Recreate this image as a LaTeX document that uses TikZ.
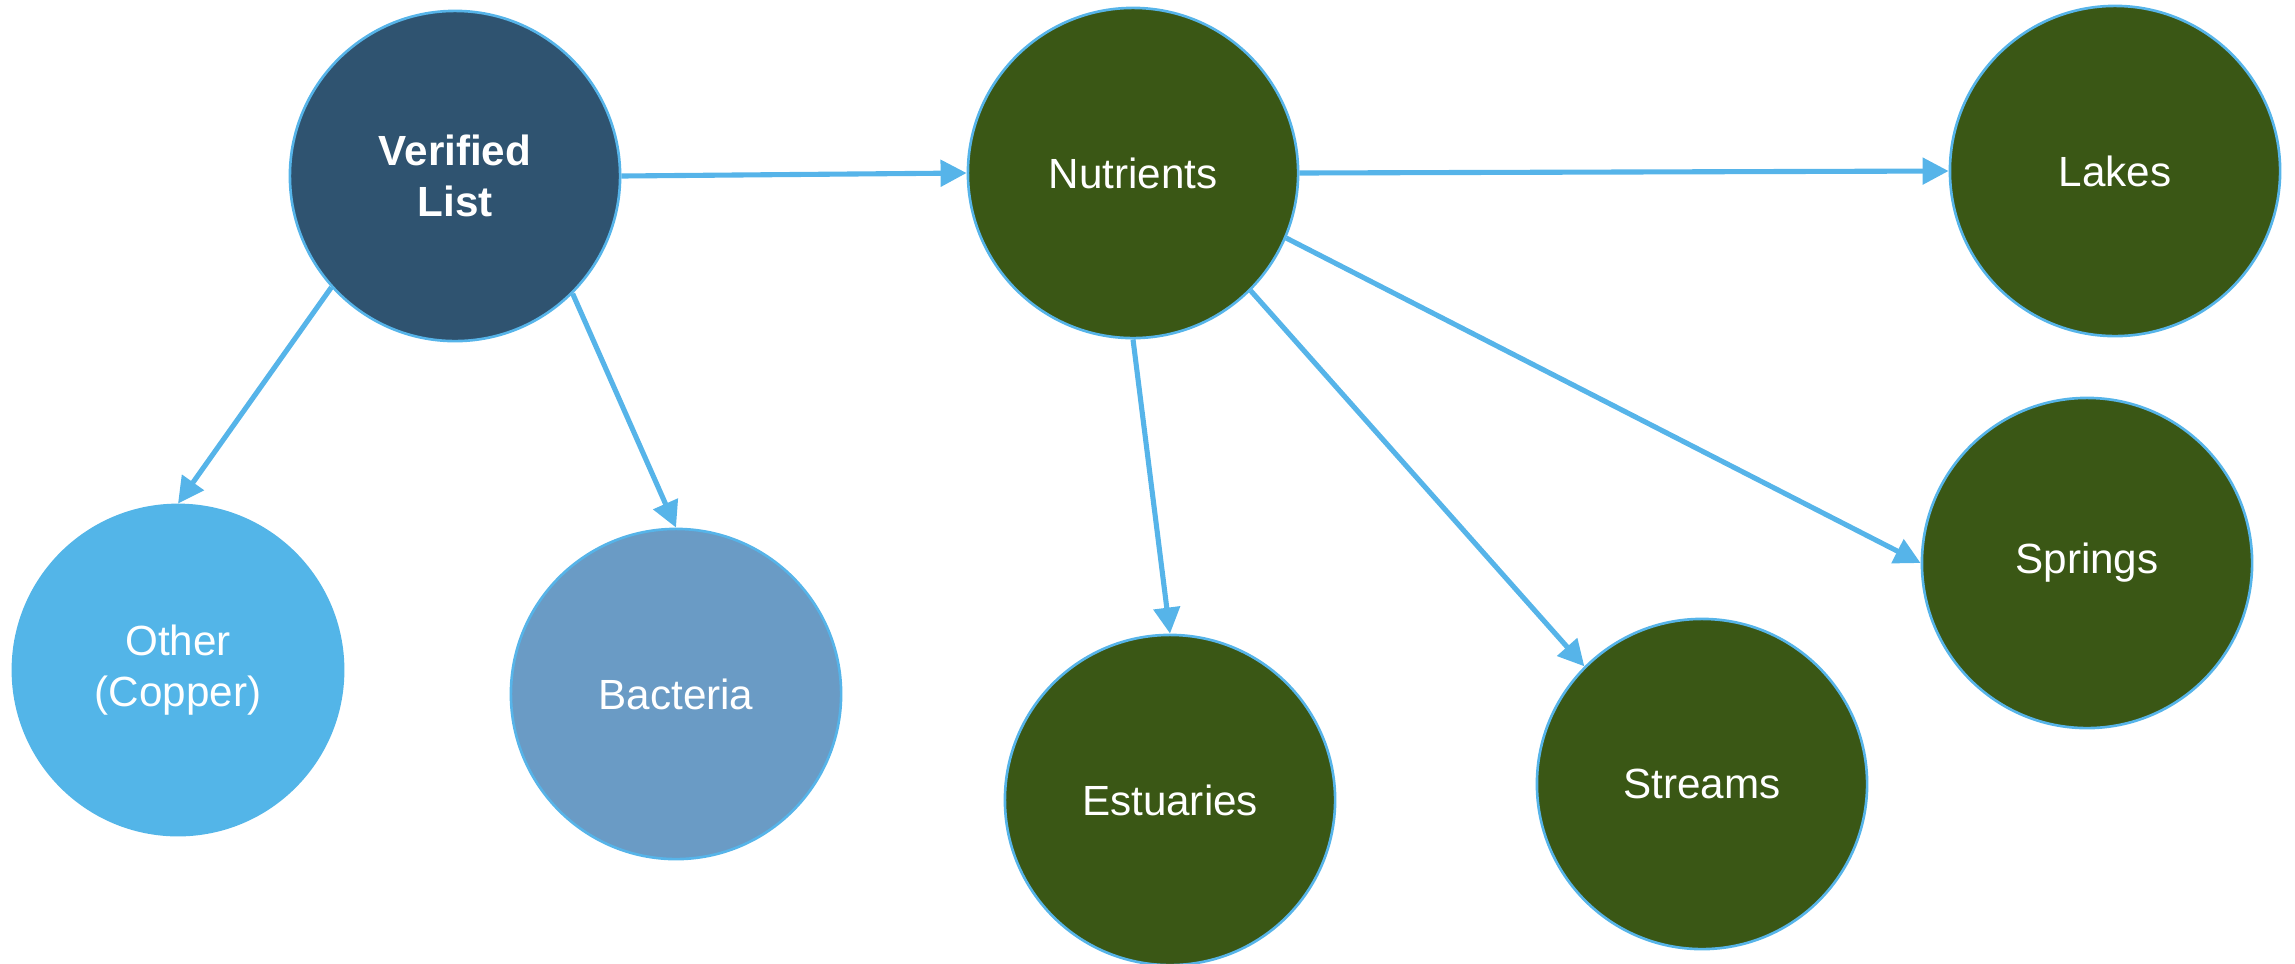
\documentclass[tikz,border=0pt]{standalone}
\usepackage{fontspec}
\setmainfont{Liberation Sans}
\usetikzlibrary{arrows.meta}
\definecolor{edgeblue}{HTML}{56B4E9}
\definecolor{navy}{HTML}{2F5370}
\definecolor{leaf}{HTML}{3A5715}
\definecolor{sky}{HTML}{53B5E8}
\definecolor{steel}{HTML}{6A9BC5}

\begin{document}
\begin{tikzpicture}[x=0.01cm, y=-0.01cm,
  bubble/.style={circle, minimum size=3.3cm, inner sep=0pt, draw=edgeblue,
    line width=0.75pt, text=white, align=center,
    font=\fontsize{12}{14.6}\selectfont},
  link/.style={draw=edgeblue, line width=1.45pt,
    -{Triangle[length=7.4pt, width=7.4pt]}}]

\useasboundingbox (0,0) rectangle (2295,963);

% nodes
\node[bubble, fill=navy, font=\fontsize{12}{14.6}\selectfont\bfseries] (vl) at (455,176) {Verified\\List};
\node[bubble, fill=leaf] (nut) at (1133,173) {Nutrients};
\node[bubble, fill=leaf] (lak) at (2115,171) {Lakes};
\node[bubble, fill=leaf] (spr) at (2087,563) {Springs};
\node[bubble, fill=leaf] (str) at (1702,784) {Streams};
\node[bubble, fill=leaf] (est) at (1170,800) {Estuaries};
\node[bubble, fill=sky, draw=sky] (oth) at (178,670) {Other\\(Copper)};
\node[bubble, fill=steel] (bac) at (676,694) {Bacteria};

% connectors
\draw[link] (vl.east) -- (nut.west);
\draw[link] (vl.222) -- (oth.north);
\draw[link] (vl.-45) -- (bac.north);
\draw[link] (nut.east) -- (lak.west);
\draw[link] (nut.-23) -- (spr.west);
\draw[link] (nut.-45) -- (str.135);
\draw[link] (nut.south) -- (est.north);
\end{tikzpicture}
\end{document}
